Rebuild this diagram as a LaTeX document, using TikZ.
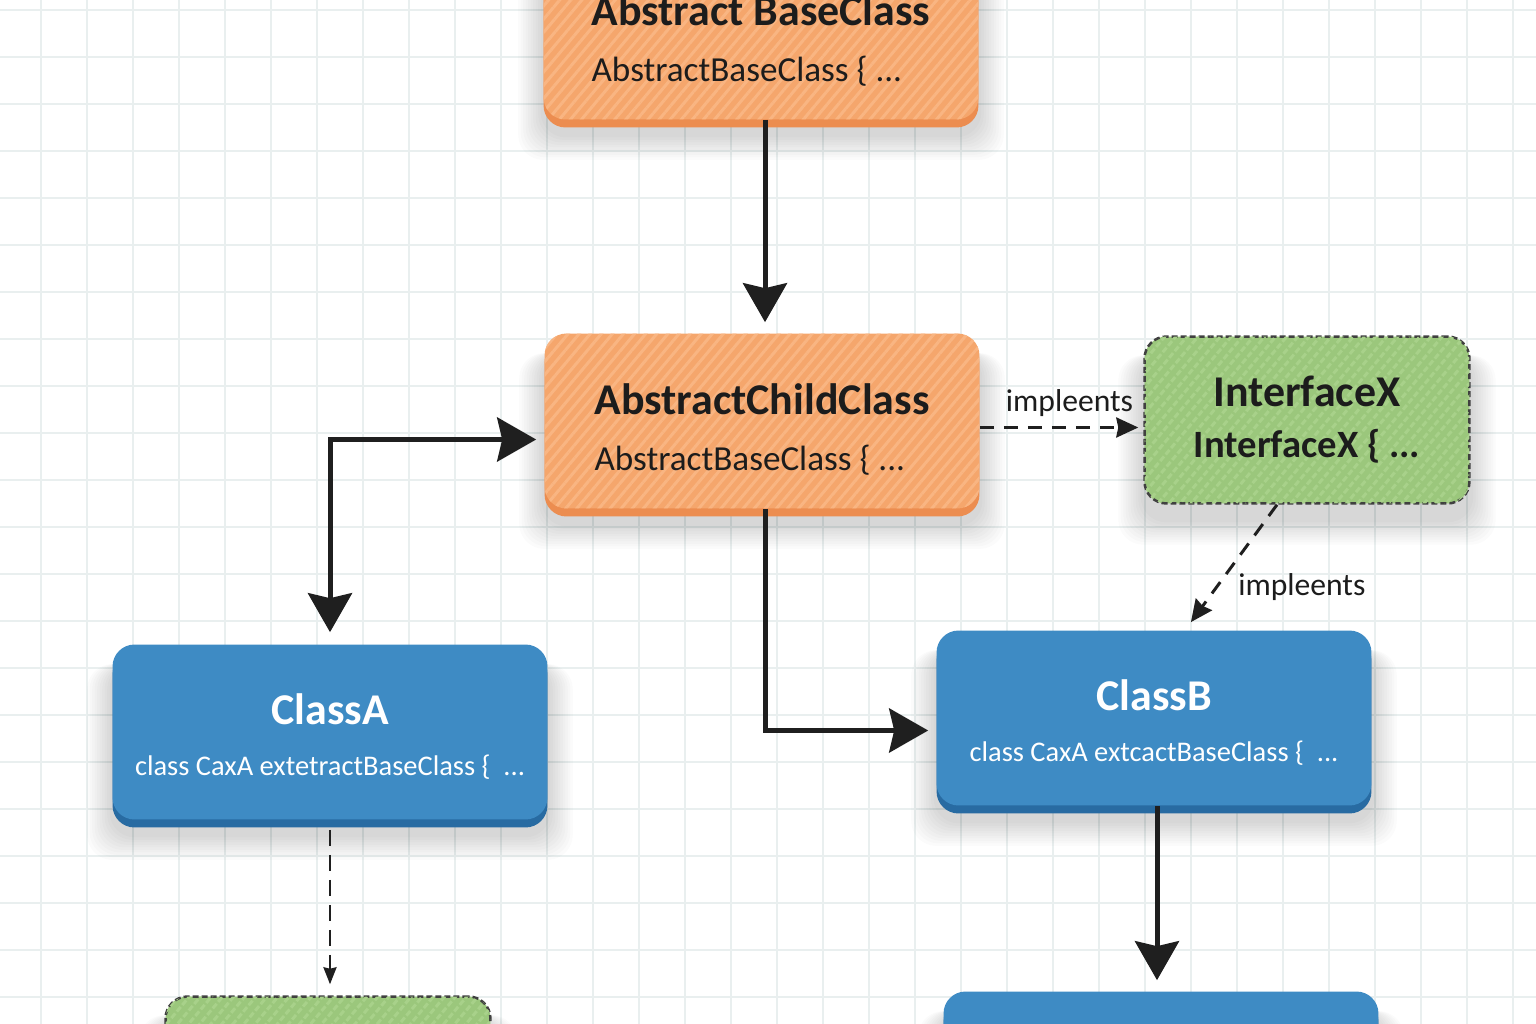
\documentclass[tikz,border=0pt]{standalone}
\usepackage{fontspec}
\setmainfont{Carlito}
\usepackage{tikz}
\usetikzlibrary{arrows.meta,shadows,patterns.meta,positioning,backgrounds}

\definecolor{gridgray}{RGB}{233,239,239}
\definecolor{boxorange}{RGB}{245,166,108}
\definecolor{orangestripe}{RGB}{249,181,130}
\definecolor{orangeedge}{RGB}{236,141,80}
\definecolor{boxblue}{RGB}{62,139,196}
\definecolor{blueedge}{RGB}{40,107,162}
\definecolor{boxgreen}{RGB}{155,199,124}
\definecolor{greenstripe}{RGB}{168,209,138}
\definecolor{textdark}{RGB}{28,28,28}

\newcommand{\boxtext}[3][0.95cm]{{\fontsize{25}{30}\selectfont\bfseries\rule{0pt}{#1}#2}\\{#3}}
% soft shadow under a box
\newcommand{\softshadow}[1]{%
  \foreach \s in {0.05,0.1,...,0.55} {
    \fill[black, opacity=0.017, rounded corners=0.5cm]
      ([xshift=-\s cm, yshift=-0.3cm-\s cm]#1.south west) rectangle ([xshift=\s cm, yshift=-0.4cm]#1.north east);
  }}

\begin{document}
\begin{tikzpicture}[x=0.02cm, y=-0.02cm,
  gridline/.style={draw=gridgray, line width=0.04cm},
  boxbase/.style={rounded corners=0.44cm, inner sep=0pt, align=center,
    font=\fontsize{20}{32}\selectfont},
  orangebox/.style={boxbase, align=left, minimum width=8.7cm, minimum height=3.5cm, fill=boxorange, text=textdark,
    copy shadow={shadow xshift=0cm, shadow yshift=-0.16cm, fill=orangeedge, draw=none},
    postaction={pattern={Lines[angle=50,distance=0.17cm,line width=0.06cm]}, pattern color=orangestripe}},
  bluebox/.style={boxbase, minimum width=8.7cm, minimum height=3.5cm, fill=boxblue, text=white,
    font=\fontsize{16.2}{29.5}\selectfont,
    copy shadow={shadow xshift=0cm, shadow yshift=-0.16cm, fill=blueedge, draw=none}},
  greenbox/.style={boxbase, minimum width=6.5cm, minimum height=3.34cm, fill=boxgreen, text=textdark,
    font=\fontsize{22}{29}\selectfont,
    draw=black!75, line width=0.05cm, dash pattern=on 0.12cm off 0.06cm,
    postaction={pattern={Lines[angle=50,distance=0.17cm,line width=0.06cm]}, pattern color=greenstripe}},
  flow/.style={line width=0.1cm, draw=black!88, >={Stealth[length=0.78cm,width=0.88cm,inset=0.1cm]}},
  link/.style={line width=0.06cm, draw=black!88, dash pattern=on 0.28cm off 0.2cm,
    >={Stealth[length=0.44cm,width=0.4cm,inset=0.04cm]}},
  thinlink/.style={line width=0.05cm, draw=black!88, dash pattern=on 0.32cm off 0.18cm,
    >={Stealth[length=0.34cm,width=0.26cm,inset=0.03cm]}},
  note/.style={font=\fontsize{18}{20}\selectfont, text=textdark, inner sep=2pt},
]
\clip (0,0) rectangle (1536,1024);

% Background grid
\begin{pgfonlayer}{background}
\fill[white] (0,0) rectangle (1536,1024);
\foreach \gx in {41,87,...,1536} {
    \draw[gridline] (\gx,0) -- (\gx,1024);
}
\foreach \gy in {10,57,...,1024} {
    \draw[gridline] (0,\gy) -- (1536,\gy);
}
\end{pgfonlayer}

% Abstract classes
\node[orangebox] (base) at (761,32) {\boxtext{Abstract BaseClass}{AbstractBaseClass \{ ...}};
\node[orangebox] (child) at (762,421) {\boxtext{AbstractChildClass}{AbstractBaseClass \{ ...}};

% Interface
\node[greenbox] (iface) at (1307,420) {\boxtext[0pt]{InterfaceX}{\bfseries InterfaceX \{ ...}};

% Concrete classes
\node[bluebox] (classA) at (330,732) {\boxtext[0.8cm]{ClassA}{class CaxA extetractBaseClass \{ \ ...}};
\node[bluebox] (classB) at (1154,718) {\boxtext[0.8cm]{ClassB}{class CaxA extcactBaseClass \{ \ ...}};

% Boxes cut by the lower edge
\node[greenbox] (ifaceB) at (328,1080) {};
\node[bluebox] (classC) at (1161,1079) {};

% Shadows
\begin{pgfonlayer}{background}
\foreach \b in {base,child,iface,classA,classB,ifaceB,classC} {
    \softshadow{\b}
}
\end{pgfonlayer}

% Connectors
\draw[flow, ->, shorten >=0.22cm] ([xshift=0.06cm]child.north |- base.south) -- ([xshift=0.06cm]child.north);
\draw[flow, <->, shorten <=0.24cm, shorten >=0.16cm] (classA.north) |- ([yshift=-0.37cm]child.west);
\draw[flow, ->, shorten >=0.16cm] ([xshift=0.06cm]child.south) |- ([yshift=-0.25cm]classB.west);
\draw[flow, ->, shorten >=0.22cm] ([xshift=0.06cm]classB.south) -- ([xshift=0.06cm]classB.south |- classC.north);
\draw[link, ->, shorten >=0.1cm] ([yshift=-0.13cm]child.east) -- ([yshift=-0.13cm]child.east -| iface.west)
    node[note, midway, above=0.12cm, xshift=0.16cm] {impleents};
\draw[link, ->, shorten >=0.2cm] ([xshift=-0.6cm]iface.south) -- ([xshift=0.62cm]classB.north)
    node[note, pos=0.66, right=0.34cm] {impleents};
\draw[thinlink, ->, shorten <=0.2cm, shorten >=0.22cm] (classA.south) -- (classA.south |- ifaceB.north);
\end{tikzpicture}
\end{document}
